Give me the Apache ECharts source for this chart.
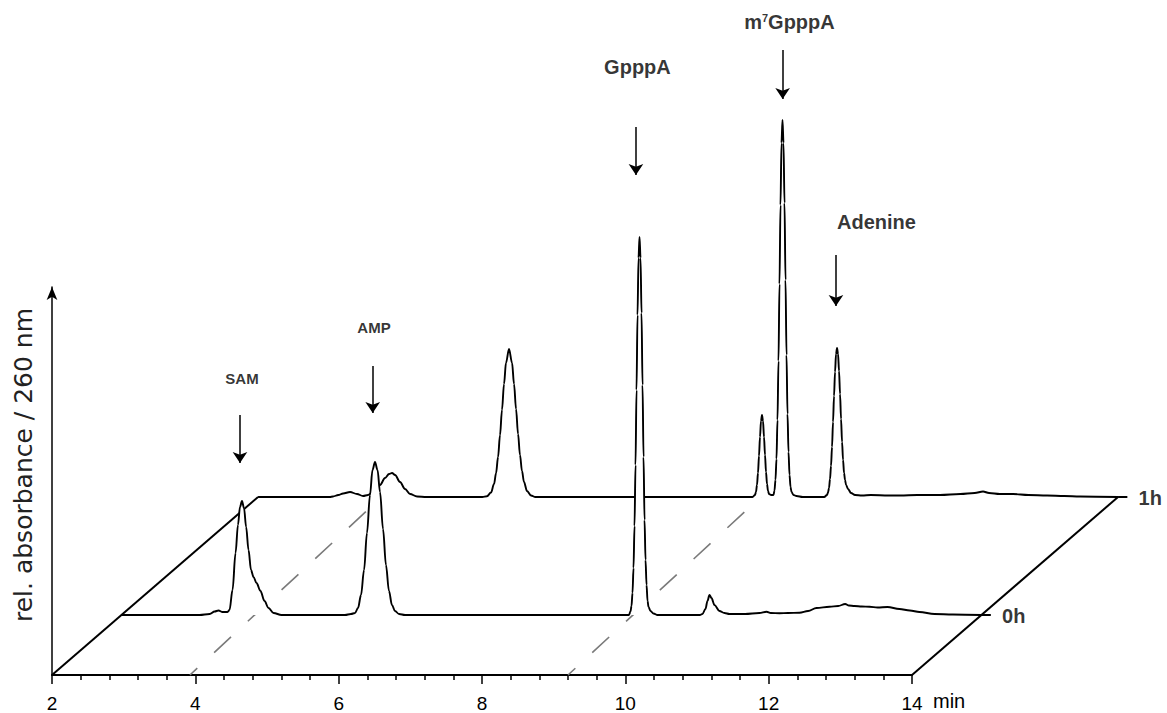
<!DOCTYPE html>
<html><head><meta charset="utf-8">
<script src="https://cdn.jsdelivr.net/npm/echarts@6/dist/echarts.min.js"></script>
<style>html,body{margin:0;padding:0;background:#fff}#c{width:1167px;height:713px}</style>
</head><body><div id="c"></div>
<script>
// ---- data ----
const xTicks = [2, 4, 6, 8, 10, 12, 14];
const traceNames = ['0h', '1h'];
// pseudo-3D depth offset of each trace (minutes, absorbance units)
const depthOffsetMin = [0.97, 2.875];
const depthOffsetAbs = [0.60, 1.78];

// [retention time (min, own frame), relative absorbance]
const trace0h = [
 [2.00,0],[3.09,0],[3.23,0.01],[3.30,0.035],[3.353,0.045],[3.41,0.03],[3.479,0.03],[3.507,0.05],[3.549,0.25],[3.591,0.62],[3.625,0.90],[3.653,1.08],[3.681,1.14],[3.709,1.07],[3.739,0.88],[3.772,0.65],[3.807,0.45],[3.842,0.38],[3.884,0.32],[3.939,0.24],[3.995,0.14],[4.051,0.07],[4.121,0.02],[4.233,0],
 [5.118,0],[5.202,0.01],[5.258,0.02],[5.300,0.07],[5.342,0.20],[5.384,0.45],[5.425,0.82],[5.467,1.20],[5.502,1.45],[5.537,1.53],[5.572,1.45],[5.607,1.23],[5.649,0.86],[5.690,0.50],[5.732,0.24],[5.774,0.10],[5.816,0.04],[5.872,0.01],[5.956,0],
 [9.08,0],[9.102,0.035],[9.116,0.09],[9.130,0.22],[9.144,0.47],[9.158,0.89],[9.172,1.50],[9.186,2.25],[9.200,3.00],[9.214,3.57],[9.228,3.78],[9.242,3.57],[9.256,3.02],[9.270,2.30],[9.284,1.58],[9.298,0.95],[9.312,0.55],[9.326,0.30],[9.340,0.14],[9.354,0.08],[9.381,0.04],[9.423,0.015],[9.479,0],
 [10.07,0],[10.106,0.01],[10.148,0.06],[10.176,0.14],[10.204,0.20],[10.232,0.17],[10.274,0.10],[10.343,0.04],[10.413,0.02],[10.483,0.01],
 [10.70,0.01],[10.90,0.02],[11.00,0.033],[11.06,0.02],[11.181,0.017],[11.30,0.02],[11.46,0.023],[11.58,0.04],[11.697,0.07],[11.879,0.083],[12.00,0.09],[12.098,0.11],[12.15,0.095],[12.228,0.09],[12.33,0.085],[12.437,0.083],[12.55,0.075],[12.688,0.08],[12.855,0.06],[13.00,0.045],[13.134,0.03],[13.344,0.01],[13.6,0.005],[14.0,0]
];
const trace1h = [
 [2.00,0],[3.00,0],[3.046,0.005],[3.12,0.02],[3.186,0.035],[3.284,0.05],[3.381,0.03],[3.465,0.01],[3.535,0.02],[3.632,0.07],[3.702,0.12],[3.772,0.19],[3.828,0.23],[3.870,0.24],[3.912,0.22],[3.981,0.15],[4.051,0.08],[4.121,0.03],[4.219,0.005],[4.35,0],
 [5.13,0],[5.195,0.008],[5.251,0.045],[5.293,0.13],[5.321,0.238],[5.349,0.40],[5.376,0.617],[5.404,0.871],[5.432,1.129],[5.460,1.342],[5.502,1.48],[5.544,1.342],[5.572,1.13],[5.600,0.88],[5.628,0.63],[5.655,0.42],[5.683,0.26],[5.711,0.15],[5.753,0.06],[5.809,0.015],[5.87,0],
 [8.90,0],[8.934,0.02],[8.948,0.05],[8.962,0.12],[8.976,0.24],[8.990,0.41],[9.004,0.60],[9.018,0.76],[9.032,0.82],[9.046,0.76],[9.060,0.60],[9.074,0.42],[9.088,0.25],[9.102,0.13],[9.116,0.06],[9.130,0.03],[9.16,0.02],
 [9.192,0.02],[9.206,0.064],[9.220,0.17],[9.234,0.38],[9.248,0.77],[9.262,1.36],[9.276,2.13],[9.290,2.92],[9.304,3.54],[9.318,3.77],[9.332,3.54],[9.346,2.94],[9.360,2.17],[9.374,1.42],[9.388,0.83],[9.402,0.45],[9.416,0.22],[9.430,0.10],[9.444,0.05],[9.471,0.02],[9.513,0.01],[9.60,0],
 [9.90,0],[9.939,0.02],[9.953,0.045],[9.967,0.09],[9.981,0.18],[9.995,0.31],[10.009,0.50],[10.023,0.75],[10.037,1.01],[10.051,1.25],[10.065,1.43],[10.079,1.49],[10.093,1.43],[10.107,1.26],[10.121,1.03],[10.135,0.78],[10.149,0.55],[10.163,0.37],[10.177,0.24],[10.191,0.17],[10.205,0.12],[10.233,0.08],[10.274,0.04],[10.330,0.02],[10.428,0.015],
 [10.55,0.02],[10.80,0.015],[10.958,0.015],[11.2,0.02],[11.516,0.02],[11.8,0.03],[12.0,0.04],[12.116,0.055],[12.2,0.04],[12.35,0.03],[12.534,0.03],[12.75,0.02],[13.009,0.015],[13.25,0.01],[13.47,0.005],[14.0,0]
];

// peak annotations (axis minutes / absorbance)
const peakNames  = ['SAM', 'AMP', 'GpppA', 'm7GpppA', 'Adenine'];
const arrowX     = [4.623, 6.475, 10.148, 12.195, 12.939];
const arrowTop   = [2.60, 3.09, 5.48, 6.25, 4.20];
const arrowTip   = [2.12, 2.62, 5.00, 5.76, 3.69];
const labelX     = [4.651, 6.493, 10.169, 12.29, 13.504];
const labelY     = [2.97, 3.475, 6.08, 6.53, 4.53];
const smallLabelNames = ['SAM', 'AMP'];

// dashed guide lines
const guideStart = [[3.925, 0], [9.20, 0]];
const guideEnd   = [[6.69, 1.84], [11.95, 1.82]];

// ---- layout / build ----
const FONT = 'Liberation Sans, Arial, Helvetica, sans-serif';
const PLOT_LEFT = 52, PLOT_BOTTOM = 38, W = 1167, H = 713;
const X0 = xTicks[0], X1 = xTicks[xTicks.length - 1];
const PX_PER_MIN = 860 / (X1 - X0);
const PX_PER_ABS = 100;
const X_EXT = 17.5;                        // wide hidden frame for the 3-D traces
const Y_AXIS_MAX = 3.88;                   // visible axis arrow height
const Y_EXT = (H - PLOT_BOTTOM) / PX_PER_ABS;

const traces = [trace0h, trace1h];
function shifted(i) {
  return traces[i].map(p => [p[0] + depthOffsetMin[i], p[1] + depthOffsetAbs[i]]);
}
const backDx = depthOffsetMin[1], backDy = depthOffsetAbs[1];
const frameLines = [
  {coords: [[X0, 0], [X0 + backDx, backDy]]},
  {coords: [[X1, 0], [X1 + backDx, backDy]]}
];
traceNames.forEach((n, i) => {
  const x = X1 + depthOffsetMin[i];
  frameLines.push({coords: [[x, depthOffsetAbs[i]], [x + 0.13, depthOffsetAbs[i]]]});
});
const arrowData = peakNames.map((n, i) => ({coords: [[arrowX[i], arrowTop[i]], [arrowX[i], arrowTip[i]]]}));
const allLabels = peakNames.map((n, i) => ({value: [labelX[i], labelY[i]], name: n}));
const smallLabels = allLabels.filter(d => smallLabelNames.includes(d.name));
const bigLabels = allLabels.filter(d => !smallLabelNames.includes(d.name));
const traceLabelData = traceNames.map((n, i) => ({value: [X1 + depthOffsetMin[i] + 0.45, depthOffsetAbs[i] - 0.01], name: n}));

const chart = echarts.init(document.getElementById('c'), null, {renderer: 'svg'});
const onFrame = {xAxisIndex: 1, yAxisIndex: 1, clip: false, silent: true};
const traceSeries = [1, 0].map(i => Object.assign({
  type: 'line', name: traceNames[i], data: shifted(i), showSymbol: false, symbol: 'none',
  smooth: 0.35, smoothMonotone: 'x', z: 5 + (1 - i),
  lineStyle: {color: '#000', width: 1.9},
  areaStyle: {color: '#fff', opacity: 1, origin: depthOffsetAbs[i]}
}, onFrame));
function labelSeries(data, size) {
  return Object.assign({
    type: 'scatter', data: data, symbolSize: 1, itemStyle: {color: 'rgba(0,0,0,0)'}, z: 10,
    label: {
      show: true, position: 'inside', color: '#000', fontFamily: FONT, fontWeight: 'bold', fontSize: size,
      formatter: p => p.name === 'm7GpppA' ? 'm{sup|7}GpppA' : p.name,
      rich: {sup: {fontFamily: FONT, fontWeight: 'bold', fontSize: 11, color: '#000', verticalAlign: 'top'}}
    }
  }, onFrame);
}

chart.setOption({
  animation: false,
  backgroundColor: '#fff',
  grid: [
    {left: PLOT_LEFT, right: W - PLOT_LEFT - 860, top: H - PLOT_BOTTOM - Y_AXIS_MAX * PX_PER_ABS, bottom: PLOT_BOTTOM},
    {left: PLOT_LEFT, right: W - PLOT_LEFT - (X_EXT - X0) * PX_PER_MIN, top: 0, bottom: PLOT_BOTTOM}
  ],
  xAxis: [{
    type: 'value', gridIndex: 0, min: X0, max: X1, interval: 2,
    name: 'min', nameLocation: 'end', nameGap: 21,
    nameTextStyle: {fontFamily: FONT, fontSize: 20, color: '#000', align: 'left', verticalAlign: 'top', padding: [16, 0, 0, 0]},
    axisLine: {show: true, onZero: false, lineStyle: {color: '#000', width: 2}},
    axisTick: {show: true, length: 9, lineStyle: {color: '#000', width: 1.5}},
    minorTick: {show: true, splitNumber: 5, length: 5, lineStyle: {color: '#000', width: 1.5}},
    axisLabel: {fontFamily: FONT, fontSize: 19, color: '#000', margin: 19},
    splitLine: {show: false}, minorSplitLine: {show: false}
  }, {
    type: 'value', gridIndex: 1, min: X0, max: X_EXT, show: false
  }],
  yAxis: [{
    type: 'value', gridIndex: 0, min: 0, max: Y_AXIS_MAX,
    name: 'rel. absorbance / 260 nm', nameLocation: 'middle', nameRotate: 90, nameGap: 16,
    nameTextStyle: {fontFamily: 'DejaVu Sans, Liberation Sans, sans-serif', fontSize: 25, color: '#222', padding: [0, 0, 0, 32]},
    axisLine: {show: true, symbol: ['none', 'arrow'], symbolSize: [8, 13], lineStyle: {color: '#000', width: 1.5}},
    axisTick: {show: false}, axisLabel: {show: false}, splitLine: {show: false}
  }, {
    type: 'value', gridIndex: 1, min: 0, max: Y_EXT, show: false
  }],
  series: [
    {type: 'line', xAxisIndex: 0, yAxisIndex: 0, data: [], silent: true},
    Object.assign({type: 'lines', coordinateSystem: 'cartesian2d', data: frameLines, z: 3,
     symbol: 'none', lineStyle: {color: '#000', width: 2, opacity: 1}}, onFrame),
    Object.assign({type: 'lines', coordinateSystem: 'cartesian2d', z: 4,
     data: guideStart.map((s, i) => ({coords: [s, guideEnd[i]]})),
     symbol: 'none', lineStyle: {color: '#7a7a7a', width: 1.6, opacity: 1, type: [23, 23], dashOffset: 13}}, onFrame),
    ...traceSeries,
    Object.assign({type: 'lines', coordinateSystem: 'cartesian2d', data: arrowData, z: 10,
     symbol: ['none', 'arrow'], symbolSize: [7, 11], lineStyle: {color: '#000', width: 1.5, opacity: 1}}, onFrame),
    labelSeries(bigLabels, 20),
    labelSeries(smallLabels, 15),
    labelSeries(traceLabelData, 20)
  ]
});
</script></body></html>
